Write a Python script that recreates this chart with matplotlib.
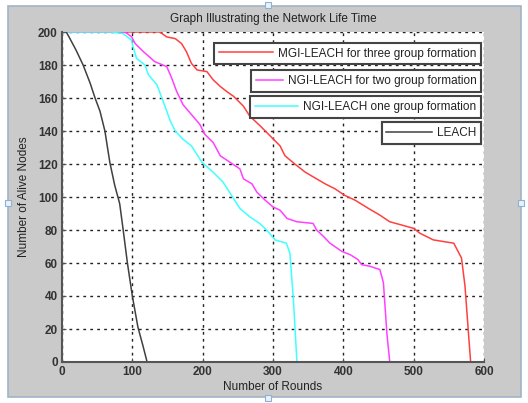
import matplotlib
matplotlib.use("Agg")
import matplotlib.pyplot as plt
from matplotlib.patches import Rectangle

plt.rcParams['font.family'] = ['Liberation Sans', 'DejaVu Sans']

# data
leach_r = [0, 6, 10, 20, 30, 40, 47, 54, 61, 68, 75, 82, 87, 93, 100, 108, 115, 121, 334]
leach_n = [200, 200, 197, 189, 180, 169, 160, 152, 140, 121, 107, 96, 80, 60, 40, 21, 10, 0, 0]

one_r = [0, 70, 87, 99, 101, 106, 118, 123, 135, 142, 149, 154, 161, 172, 184, 199, 215,
         229, 241, 253, 267, 281, 293, 303, 319, 324, 329, 334, 466]
one_n = [200, 200, 199, 195, 191, 184, 180, 174, 168, 160, 152, 146, 140, 135, 131, 121, 115,
         109, 101, 93, 88, 84, 79, 74, 72, 66, 38, 0, 0]

two_r = [0, 90, 99, 104, 116, 132, 149, 156, 163, 172, 184, 196, 203, 215, 225, 239, 253,
         258, 270, 277, 289, 300, 310, 320, 334, 357, 362, 372, 381, 398, 410, 421, 426,
         438, 452, 457, 462, 466, 580]
two_n = [200, 200, 197, 193, 188, 182, 179, 172, 164, 156, 150, 144, 138, 133, 125, 121, 117,
         111, 108, 103, 98, 94, 92, 87, 85, 84, 80, 76, 72, 67, 65, 62, 59,
         58, 56, 48, 17, 0, 0]

three_r = [0, 139, 149, 161, 170, 177, 184, 192, 206, 215, 225, 234, 244, 258, 267, 282, 296,
           310, 317, 331, 346, 362, 374, 388, 402, 417, 436, 452, 466, 500, 509, 528, 557,
           568, 573, 578, 581, 600]
three_n = [200, 200, 197, 196, 193, 188, 181, 177, 176, 171, 167, 164, 161, 155, 149, 143, 137,
           131, 125, 120, 115, 111, 108, 105, 101, 98, 93, 89, 85, 81, 78, 74, 72,
           63, 46, 17, 0, 0]

labels = ['MGI-LEACH for three group formation',
          'NGI-LEACH for two group formation',
          'NGI-LEACH one group formation',
          'LEACH']
colors = ['#ff4040', '#ff40ff', '#40ffff', '#404040']

fig = plt.figure(figsize=(5.28, 4.03), dpi=100)
fig.patch.set_facecolor('white')

# grey window area like the screenshot
fig.patches.append(Rectangle((8 / 528, 6 / 403), 513 / 528, 391 / 403,
                             transform=fig.transFigure, facecolor='#cacaca',
                             edgecolor='#9fb4c8', linewidth=1.2, zorder=-10))
for hx, hy in [(268, 5), (8, 203), (521, 203), (268, 398)]:
    fig.patches.append(Rectangle(((hx - 3) / 528, (403 - hy - 3) / 403), 6 / 528, 6 / 403,
                                 transform=fig.transFigure, facecolor='#e8f2fb',
                                 edgecolor='#8fb0d0', linewidth=0.8, zorder=-5))

ax = fig.add_axes([62 / 528, 41 / 403, 422 / 528, 330 / 403])
ax.set_facecolor('white')

lines = []
for r, n, c in [(three_r, three_n, colors[0]), (two_r, two_n, colors[1]),
                (one_r, one_n, colors[2]), (leach_r, leach_n, colors[3])]:
    ln, = ax.plot(r, n, color=c, linewidth=1.1)
    lines.append(ln)

ax.set_xlim(0, 600)
ax.set_ylim(0, 200)
ax.set_xticks(range(0, 601, 100))
ax.set_yticks(range(0, 201, 20))
ax.grid(True, linestyle=(0, (2, 3)), color='#222222', linewidth=1.0)
for s in ['top', 'right']:
    ax.spines[s].set_visible(False)
for s in ['left', 'bottom']:
    ax.spines[s].set_color('#555555')
    ax.spines[s].set_linewidth(1.5)
ax.tick_params(direction='in', length=3, color='#555555', labelsize=8.5,
               labelcolor='#333333', pad=3)
for t in ax.get_xticklabels() + ax.get_yticklabels():
    t.set_fontweight('bold')

ax.set_title('Graph Illustrating the Network Life Time', fontsize=8.5, color='#222222', pad=7)
ax.set_xlabel('Number of Rounds', fontsize=8.5, color='#222222', labelpad=2)
ax.set_ylabel('Number of Alive Nodes', fontsize=8.5, color='#222222', labelpad=6)

# four separate legend boxes, right aligned, stacked
tops = [0.967, 0.884, 0.805, 0.727]
hlens = [4.6, 2.3, 3.7, 3.9]
for i, (ln, lab) in enumerate(zip(lines, labels)):
    leg = ax.legend([ln], [lab], loc='upper right', bbox_to_anchor=(0.993, tops[i]),
                    fontsize=8.5, fancybox=False, framealpha=1, edgecolor='#444444',
                    handlelength=hlens[i], borderpad=0.4, borderaxespad=0,
                    handletextpad=0.4, labelcolor='#222222')
    leg.get_frame().set_linewidth(1.5)
    ax.add_artist(leg)

fig.savefig('out.png', dpi=100, facecolor=fig.get_facecolor())
